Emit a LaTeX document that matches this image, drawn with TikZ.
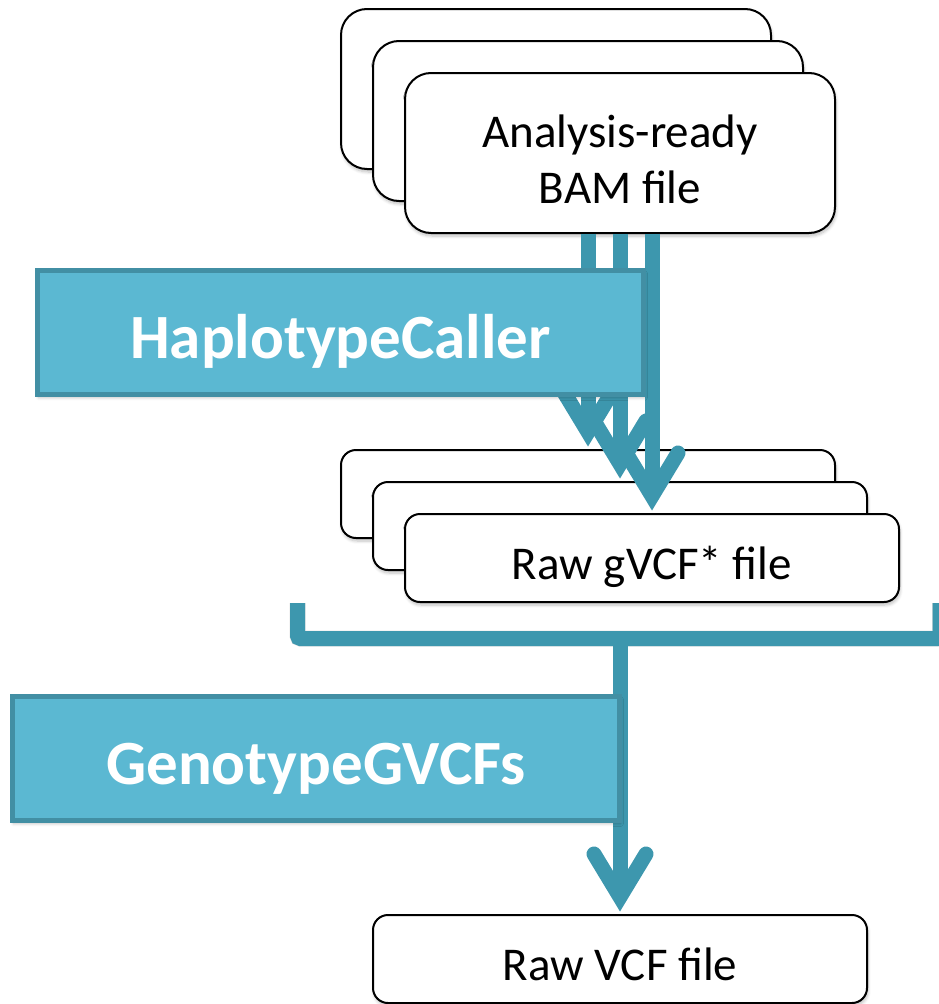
\documentclass[tikz,border=0pt]{standalone}
\usepackage{fontspec}
\setmainfont{Carlito}
\usetikzlibrary{calc,shadows.blur}

\definecolor{flowc}{HTML}{3D97AE}
\definecolor{toolfill}{HTML}{5BB8D2}
\definecolor{toolline}{HTML}{428FA4}

\tikzset{
  softshadow/.style={blur shadow={shadow xshift=1pt, shadow yshift=-3pt,
      shadow opacity=25, shadow blur steps=6, shadow blur radius=3pt}},
  filebox/.style={draw=black, line width=2pt, fill=white, inner sep=0pt,
      font=\fontsize{47}{56}\selectfont, softshadow},
  bamfile/.style={filebox, rounded corners=26pt, minimum width=430pt,
      minimum height=160pt},
  vcffile/.style={filebox, rounded corners=15pt, minimum width=494pt,
      minimum height=88pt, text height=42pt, text depth=0pt},
  toolbox/.style={draw=toolline, line width=5pt, fill=toolfill, text=white,
      inner sep=0pt, font=\bfseries\fontsize{63}{70}\selectfont,
      minimum height=124pt, text height=51pt, text depth=0pt, softshadow},
  flow/.style={draw=flowc, line width=15pt},
  flowshadow/.style={draw=black, opacity=0.12, line width=16pt, shift={(1,3)}},
  headline/.style={draw=flowc, line width=15pt, line cap=round, line join=miter},
}

% open arrow head whose inner vertex sits at the given coordinate
\newcommand\openhead[1]{%
  \draw[headline] ($(#1)+(-26,-43)$) -- (#1) -- ($(#1)+(26,-43)$);}

\begin{document}
\begin{tikzpicture}[x=1pt, y=-1pt]
\useasboundingbox (0,0) rectangle (939,1004);
\clip (0,0) rectangle (939,1004);

% stack of input BAM files
\node[bamfile] (bam1) at (556,89) {};
\node[bamfile] (bam2) at (588,121) {};
\node[bamfile, align=center, text height=100pt, text depth=0pt] (bam3) at (620,153)
  {Analysis-ready\\BAM file};

% stack of per-sample gVCF files
\node[vcffile] (gv1) at (588,494) {};
\node[vcffile] (gv2) at (620,526) {};
\node[vcffile] (gv3) at (652,558) {Raw gVCF* file};

% one arrow per sample
\foreach \g in {gv1,gv2,gv3} {
  \coordinate (tip-\g) at ($(\g.north)+(0,-17)$);
  \draw[flow] (bam3.south -| \g.north) -- (tip-\g);
  \openhead{tip-\g}
}

% first tool
\node[toolbox, minimum width=606pt] (hc) at (340.5,332.5) {HaplotypeCaller};

% bracket gathering the gVCF files
\coordinate (bl) at (297.5,603);
\coordinate (br) at (940,603);
\draw[flowshadow, rounded corners=3pt] (bl) -- ++(0,35.5) -| (br);
\draw[flow, rounded corners=3pt] (bl) -- ++(0,35.5) coordinate (bar) -| (br);

% joint genotyping
\node[vcffile] (vcf) at (620,959) {Raw VCF file};
\coordinate (tip-vcf) at ($(vcf.north)+(0,-17)$);
\draw[flow] (bar -| vcf.north) -- (tip-vcf);
\node[toolbox, minimum width=607pt] (gg) at (316,758.5) {GenotypeGVCFs};
\openhead{tip-vcf}
\end{tikzpicture}
\end{document}
